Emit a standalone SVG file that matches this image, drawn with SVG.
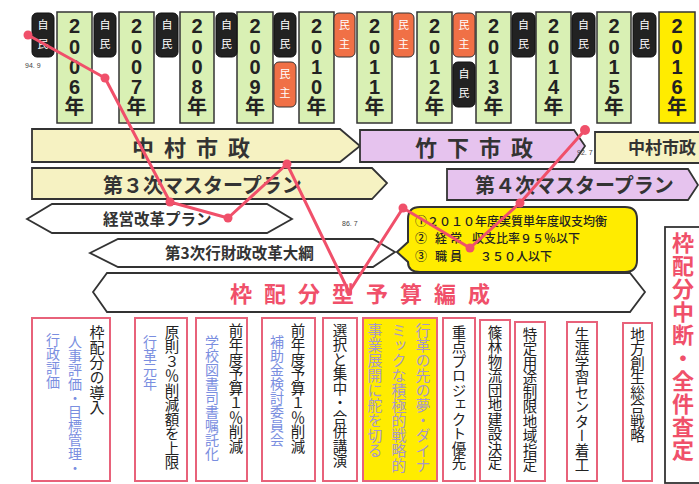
<svg xmlns="http://www.w3.org/2000/svg" width="699" height="484" viewBox="0 0 699 484">
<defs>
<style>
.yr{fill:#d9f0b4;stroke:#333;stroke-width:1.5}
.yrt{font-family:"Liberation Sans","Noto Sans CJK JP",sans-serif;font-weight:bold;font-size:20px;fill:#222;text-anchor:middle}
.bj{fill:#222;stroke:#111;stroke-width:1}
.bm{fill:#f07046;stroke:#333;stroke-width:1}
.bt{font-family:"Noto Sans CJK JP",sans-serif;font-size:11px;fill:#fff;text-anchor:middle}
.ylw{fill:#f6f2c2;stroke:#333;stroke-width:1.8}
.pur{fill:#e6c3ee;stroke:#333;stroke-width:1.8}
.wht{fill:#fff;stroke:#333;stroke-width:1.8}
.hd{font-family:"Noto Sans CJK JP",sans-serif;font-weight:bold;fill:#333}
.box{fill:#fff;stroke:#e8627a;stroke-width:2}
.vt{font-family:"Noto Sans CJK JP",sans-serif;font-size:14.5px;writing-mode:vertical-rl;text-orientation:upright}
.k{fill:#222}
.b{fill:#7a8ee0;font-size:14px}
.p{fill:#a898c6;font-size:15px}
.line{fill:none;stroke:#f0506a;stroke-width:3;stroke-linejoin:round}
.dot{fill:#f0506a}
.sm{font-family:"Liberation Sans",sans-serif;font-size:7px;fill:#444}
.cl{font-family:"Noto Sans CJK JP",sans-serif;font-size:12px;font-weight:500;fill:#222}
</style>
</defs>
<rect width="699" height="484" fill="#fff"/>

<g id="years">
<g id="y2006"><rect class="yr" x="57" y="12" width="35" height="111"/><text class="yrt"><tspan x="74.5" y="33">2</tspan><tspan x="74.5" y="54">0</tspan><tspan x="74.5" y="74">0</tspan><tspan x="74.5" y="94">6</tspan><tspan x="74.5" y="114">年</tspan></text></g>
<g id="y2007"><rect class="yr" x="119" y="12" width="35" height="111"/><text class="yrt"><tspan x="136.5" y="33">2</tspan><tspan x="136.5" y="54">0</tspan><tspan x="136.5" y="74">0</tspan><tspan x="136.5" y="94">7</tspan><tspan x="136.5" y="114">年</tspan></text></g>
<g id="y2008"><rect class="yr" x="180" y="12" width="34" height="111"/><text class="yrt"><tspan x="197" y="33">2</tspan><tspan x="197" y="54">0</tspan><tspan x="197" y="74">0</tspan><tspan x="197" y="94">8</tspan><tspan x="197" y="114">年</tspan></text></g>
<g id="y2009"><rect class="yr" x="237" y="12" width="36" height="111"/><text class="yrt"><tspan x="255" y="33">2</tspan><tspan x="255" y="54">0</tspan><tspan x="255" y="74">0</tspan><tspan x="255" y="94">9</tspan><tspan x="255" y="114">年</tspan></text></g>
<g id="y2010"><rect class="yr" x="299" y="12" width="35" height="111"/><text class="yrt"><tspan x="316.5" y="33">2</tspan><tspan x="316.5" y="54">0</tspan><tspan x="316.5" y="74">1</tspan><tspan x="316.5" y="94">0</tspan><tspan x="316.5" y="114">年</tspan></text></g>
<g id="y2011"><rect class="yr" x="357" y="12" width="35" height="111"/><text class="yrt"><tspan x="374.5" y="33">2</tspan><tspan x="374.5" y="54">0</tspan><tspan x="374.5" y="74">1</tspan><tspan x="374.5" y="94">1</tspan><tspan x="374.5" y="114">年</tspan></text></g>
<g id="y2012"><rect class="yr" x="417" y="12" width="35" height="111"/><text class="yrt"><tspan x="434.5" y="33">2</tspan><tspan x="434.5" y="54">0</tspan><tspan x="434.5" y="74">1</tspan><tspan x="434.5" y="94">2</tspan><tspan x="434.5" y="114">年</tspan></text></g>
<g id="y2013"><rect class="yr" x="476" y="12" width="35" height="111"/><text class="yrt"><tspan x="493.5" y="33">2</tspan><tspan x="493.5" y="54">0</tspan><tspan x="493.5" y="74">1</tspan><tspan x="493.5" y="94">3</tspan><tspan x="493.5" y="114">年</tspan></text></g>
<g id="y2014"><rect class="yr" x="536" y="12" width="35" height="111"/><text class="yrt"><tspan x="553.5" y="33">2</tspan><tspan x="553.5" y="54">0</tspan><tspan x="553.5" y="74">1</tspan><tspan x="553.5" y="94">4</tspan><tspan x="553.5" y="114">年</tspan></text></g>
<g id="y2015"><rect class="yr" x="597" y="12" width="34" height="111"/><text class="yrt"><tspan x="614" y="33">2</tspan><tspan x="614" y="54">0</tspan><tspan x="614" y="74">1</tspan><tspan x="614" y="94">5</tspan><tspan x="614" y="114">年</tspan></text></g>
<g id="y2016"><rect x="659" y="12" width="36" height="111" fill="#ffec00" stroke="#333" stroke-width="1.5"/><text class="yrt"><tspan x="677" y="33">2</tspan><tspan x="677" y="54">0</tspan><tspan x="677" y="74">1</tspan><tspan x="677" y="94">6</tspan><tspan x="677" y="114">年</tspan></text></g>
</g>

<g id="badges">
<g id="b1"><rect class="bj" x="32" y="13" width="22" height="44" rx="5"/><text class="bt"><tspan x="43" y="29">自</tspan><tspan x="43" y="48">民</tspan></text></g>
<g id="b2"><rect class="bj" x="94" y="13" width="22" height="44" rx="5"/><text class="bt"><tspan x="105" y="29">自</tspan><tspan x="105" y="48">民</tspan></text></g>
<g id="b3"><rect class="bj" x="156" y="13" width="22" height="44" rx="5"/><text class="bt"><tspan x="167" y="29">自</tspan><tspan x="167" y="48">民</tspan></text></g>
<g id="b4"><rect class="bj" x="216" y="13" width="21" height="44" rx="5"/><text class="bt"><tspan x="226.5" y="29">自</tspan><tspan x="226.5" y="48">民</tspan></text></g>
<g id="b5"><rect class="bj" x="274" y="13" width="22" height="44" rx="5"/><text class="bt"><tspan x="285" y="29">自</tspan><tspan x="285" y="48">民</tspan></text></g>
<g id="b6"><rect class="bm" x="274" y="62" width="22" height="45" rx="5"/><text class="bt"><tspan x="285" y="78">民</tspan><tspan x="285" y="97">主</tspan></text></g>
<g id="b7"><rect class="bm" x="334" y="13" width="21" height="44" rx="5"/><text class="bt"><tspan x="344.5" y="29">民</tspan><tspan x="344.5" y="48">主</tspan></text></g>
<g id="b8"><rect class="bm" x="393" y="13" width="21" height="44" rx="5"/><text class="bt"><tspan x="403.5" y="29">民</tspan><tspan x="403.5" y="48">主</tspan></text></g>
<g id="b9"><rect class="bm" x="453" y="13" width="22" height="44" rx="5"/><text class="bt"><tspan x="464" y="29">民</tspan><tspan x="464" y="48">主</tspan></text></g>
<g id="b10"><rect class="bj" x="453" y="62" width="22" height="45" rx="5"/><text class="bt"><tspan x="464" y="78">自</tspan><tspan x="464" y="97">民</tspan></text></g>
<g id="b11"><rect class="bj" x="512" y="13" width="23" height="44" rx="5"/><text class="bt"><tspan x="523.5" y="29">自</tspan><tspan x="523.5" y="48">民</tspan></text></g>
<g id="b12"><rect class="bj" x="572" y="13" width="23" height="44" rx="5"/><text class="bt"><tspan x="583.5" y="29">自</tspan><tspan x="583.5" y="48">民</tspan></text></g>
<g id="b13"><rect class="bj" x="633" y="13" width="23" height="44" rx="5"/><text class="bt"><tspan x="644.5" y="29">自</tspan><tspan x="644.5" y="48">民</tspan></text></g>
</g>

<g id="bars">
<g id="nakamura1"><path class="ylw" d="M32,129 L340,129 L360,146 L340,162 L32,162 Z"/><text class="hd" x="132" y="156" font-size="22" letter-spacing="10">中村市政</text></g>
<g id="takeshita"><path class="pur" d="M360,130 L574,130 L585,146 L574,162 L360,162 Z"/><text class="hd" x="415" y="156" font-size="22" letter-spacing="10">竹下市政</text></g>
<g id="nakamura2"><path class="ylw" d="M595,132 L705,132 L705,163 L595,163 Z"/><text class="hd" x="628" y="153.5" font-size="17">中村市政</text></g>
<g id="mp3"><path class="ylw" d="M32,168 L372,168 L387,183 L372,199 L32,199 Z"/><text class="hd" x="103" y="192.5" font-size="20">第３次マスタープラン</text></g>
<g id="mp4"><path class="pur" d="M447,169 L688,169 L698,185 L688,200 L447,200 Z"/><text class="hd" x="475" y="192.5" font-size="20">第４次マスタープラン</text></g>
<g id="keiei"><path class="wht" d="M27,219 L52,204 L267,204 L292,219 L267,233 L52,233 Z"/><text class="hd" x="103" y="225" font-size="15.5">経営改革プラン</text></g>
<g id="gyozai"><path class="wht" d="M90,253 L118,239 L373,239 L395,252 L373,267 L118,267 Z"/><text class="hd" x="165" y="259" font-size="15.5">第3次行財政改革大綱</text></g>
<g id="wakuhai"><path class="wht" d="M93,292 L107,273 L630,273 L645,292 L630,312 L107,312 Z"/><text class="hd" x="230" y="302" font-size="22" letter-spacing="12" style="fill:#f0506a">枠配分型予算編成</text></g>
<g id="callout"><path d="M420,207 H625 Q637,207 637,219 V260 Q637,272 625,272 H420 Q408,272 408,262 L397,252 L408,242 V219 Q408,207 420,207 Z" fill="#ffec00" stroke="#333" stroke-width="2"/>
<text class="cl" x="415" y="226">①２０１０年度実質単年度収支均衡</text>
<text class="cl" y="243"><tspan x="415">②</tspan><tspan x="435">経</tspan><tspan x="450">常</tspan><tspan x="472">収支比率９５％以下</tspan></text>
<text class="cl" y="261"><tspan x="415">③</tspan><tspan x="435">職</tspan><tspan x="450">員</tspan><tspan x="480">３５０人以下</tspan></text></g>
<g id="zenken"><rect class="wht" x="665" y="227" width="50" height="256"/><text x="683" y="232" font-family="Noto Sans CJK JP, sans-serif" font-weight="bold" font-size="22" letter-spacing="1" fill="#f0506a" style="writing-mode:vertical-rl;text-orientation:upright">枠配分中断・全件査定</text></g>
</g>

<g id="items">
<g id="i1"><rect class="box" x="32" y="318" width="78" height="163"/><text class="vt k" x="97" y="325" style="font-size:15px">枠配分の導入</text><text class="vt b" x="75" y="335">人事評価・目標管理・</text><text class="vt b" x="53" y="333">行政評価</text></g>
<g id="i2"><rect class="box" x="135" y="318" width="52" height="163"/><text class="vt k" x="172" y="325">原則３％削減額を上限</text><text class="vt b" x="150" y="335">行革元年</text></g>
<g id="i3"><rect class="box" x="196" y="318" width="51" height="163"/><text class="vt k" x="236" y="323">前年度予算１％削減</text><text class="vt b" x="212" y="335">学校図書司書嘱託化</text></g>
<g id="i4"><rect class="box" x="262" y="318" width="53" height="163"/><text class="vt k" x="298" y="323">前年度予算１％削減</text><text class="vt b" x="277" y="335">補助金検討委員会</text></g>
<g id="i5"><rect class="box" x="323" y="318" width="34" height="163"/><text class="vt k" x="340" y="323">選択と集中・合併講演</text></g>
<g id="i6"><rect x="363" y="318" width="74" height="163" fill="#ffec00" stroke="#e8627a" stroke-width="2"/><text class="vt p" x="423" y="323">行革の先の夢・ダイナ</text><text class="vt p" x="399" y="323">ミックな積極的戦略的</text><text class="vt p" x="375" y="323">事業展開に舵を切る</text></g>
<g id="i7"><rect class="box" x="443" y="318" width="32" height="163"/><text class="vt k" x="459" y="325">重点プロジェクト優先</text></g>
<g id="i8"><rect class="box" x="480" y="320" width="30" height="161"/><text class="vt k" x="495" y="325">篠林物流団地建設決定</text></g>
<g id="i9"><rect class="box" x="515" y="322" width="30" height="159"/><text class="vt k" x="530" y="327">特定用途制限地域指定</text></g>
<g id="i10"><rect class="box" x="567" y="322" width="30" height="159"/><text class="vt k" x="582" y="327">生涯学習センター着工</text></g>
<g id="i11"><rect class="box" x="623" y="323" width="29" height="158"/><text class="vt k" x="637.5" y="327">地方創生総合戦略</text></g>
</g>

<g id="connectors">
<polyline class="line" points="28,35 105,78 170,202 228,218 287,164 349,292 403,208 470,248 520,203 585,130"/>
<circle class="dot" cx="28" cy="35" r="4.5"/><circle class="dot" cx="105" cy="78" r="4.5"/><circle class="dot" cx="170" cy="202" r="4.5"/><circle class="dot" cx="228" cy="218" r="4.5"/><circle class="dot" cx="287" cy="164" r="4.5"/><circle class="dot" cx="349" cy="292" r="3"/><circle class="dot" cx="403" cy="208" r="4.5"/><circle class="dot" cx="470" cy="248" r="4.5"/><circle class="dot" cx="520" cy="203" r="4.5"/><circle class="dot" cx="585" cy="130" r="5"/>
<text class="sm" x="25" y="68">94. 9</text>
<text class="sm" x="342" y="226">86. 7</text>
<text class="sm" x="577" y="155">92. 7</text>
</g>
</svg>
